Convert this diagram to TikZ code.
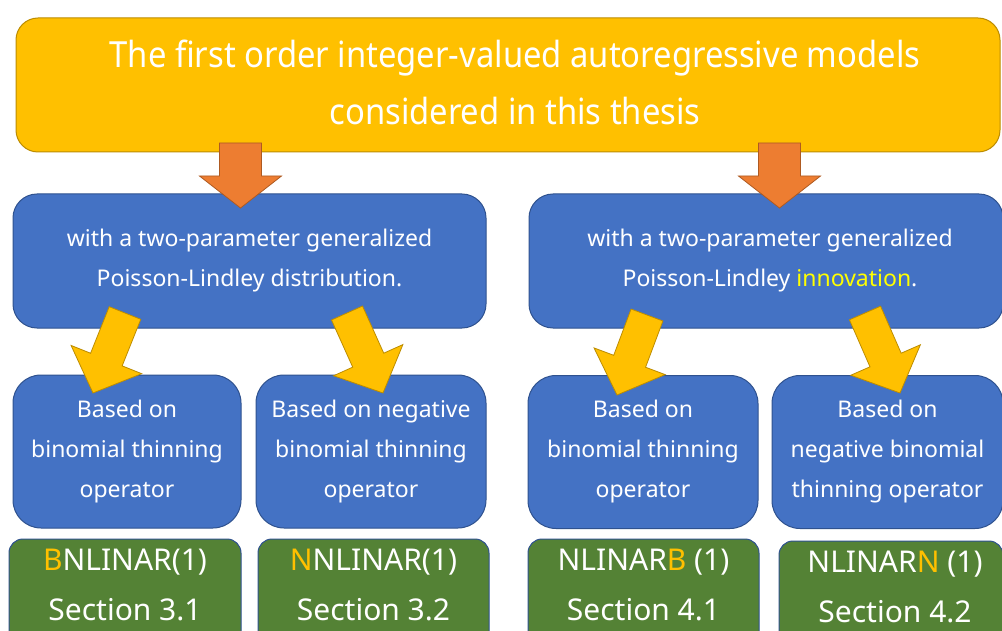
\documentclass[tikz,border=0pt]{standalone}
\usepackage{fontspec}
\setmainfont{Noto Sans}
\newfontfamily\titlefont{Noto Sans}[FakeStretch=0.91]
\usetikzlibrary{calc}
\definecolor{gold}{HTML}{FFC000}
\definecolor{goldline}{HTML}{BC8C00}
\definecolor{orangeA}{HTML}{ED7D31}
\definecolor{orangeline}{HTML}{AE5A21}
\definecolor{blueA}{HTML}{4472C4}
\definecolor{blueline}{HTML}{2F528F}
\definecolor{greenA}{HTML}{548235}
\definecolor{hiyellow}{HTML}{FFFF00}
\tikzset{
  boxbase/.style={rectangle, inner sep=0pt, line width=1pt, text=white, align=center},
  topbox/.style={boxbase, draw=goldline, fill=gold, rounded corners=22pt},
  midbox/.style={boxbase, draw=blueline, fill=blueA, rounded corners=24pt, minimum height=134pt,
     font=\fontsize{23}{40}\selectfont},
  lowbox/.style={boxbase, draw=blueline, fill=blueA, rounded corners=28pt, minimum height=153pt,
     font=\fontsize{23}{40}\selectfont},
  secbox/.style={boxbase, draw=blueline, fill=greenA, rounded corners=14pt},
  sectext/.style={text=white, align=center, inner sep=0pt, font=\fontsize{30}{50}\selectfont},
  titletext/.style={text=white, align=center, inner sep=0pt, font=\titlefont\fontsize{36}{57}\selectfont},
  orangearr/.style={draw=orangeline, fill=orangeA, line width=0.8pt, line join=miter},
  goldarr/.style={draw=goldline, fill=gold, line width=0.8pt, line join=miter},
}
% #1 style, #2 start coordinate, #3 tip coordinate, #4 shaft half width, #5 head half width, #6 head length
\newcommand\blockarr[6]{%
  \coordinate (#2-h) at ($(#3)!#6!(#2)$);
  \draw[#1] ($(#2)!#4!90:(#3)$) -- ($(#2-h)!#4!-90:(#2)$) -- ($(#2-h)!#5!-90:(#2)$) -- (#3)
     -- ($(#2-h)!#5!90:(#2)$) -- ($(#2-h)!#4!90:(#2)$) -- ($(#2)!#4!-90:(#3)$) -- cycle;
}
\begin{document}
\begin{tikzpicture}[x=1pt,y=-1pt]
\useasboundingbox (0,0) rectangle (1002,631);
\clip (0,0) rectangle (1002,631);
\fill[white] (0,0) rectangle (1002,631);

% top box
\node[topbox, minimum width=984pt, minimum height=134pt] (top) at (508,85) {};
\node[titletext] (toptext) at (515,82) {The first order integer-valued autoregressive models\\considered in this thesis};

% middle boxes
\node[midbox, minimum width=473pt] (m1) at (249.5,261) {with a two-parameter generalized\\Poisson-Lindley distribution.};
\node[midbox, minimum width=474pt] (m2) at (766,261) {\hspace*{8pt}with a two-parameter generalized\\\hspace*{8pt}Poisson-Lindley {\color{hiyellow}innovation}.};

% lower blue boxes
\node[lowbox, minimum width=228pt] (b1) at (127,451.5) {Based on\\binomial thinning\\operator};
\node[lowbox, minimum width=230pt] (b2) at (371,451.5) {Based on negative\\binomial thinning\\operator};
\node[lowbox, minimum width=230pt] (b3) at (643,452) {Based on\\binomial thinning\\operator};
\node[lowbox, minimum width=231pt] (b4) at (887.5,452) {Based on\\negative binomial\\thinning operator};

% green section boxes
\node[secbox, minimum width=232pt, minimum height=111pt] (g1) at (125,594.5) {};
\node[secbox, minimum width=231pt, minimum height=111pt] (g2) at (373.5,594.5) {};
\node[secbox, minimum width=231pt, minimum height=111pt] (g3) at (643.5,594.5) {};
\node[secbox, minimum width=224pt, minimum height=109pt] (g4) at (891,595.5) {};
\node[sectext] (g1t) at (125,585) {{\color{gold}B}NLINAR(1)\\Section 3.1};
\node[sectext] (g2t) at (373.5,585) {{\color{gold}N}NLINAR(1)\\Section 3.2};
\node[sectext] (g3t) at (643.5,585) {NLINAR{\color{gold}B} (1)\\Section 4.1};
\node[sectext] (g4t) at (895,587) {NLINAR{\color{gold}N} (1)\\Section 4.2};

% orange arrows
\coordinate (o1s) at (240.5,143);
\coordinate (o1t) at (240.5,208);
\coordinate (o2s) at (779.5,143);
\coordinate (o2t) at (779.5,208);
\blockarr{orangearr}{o1s}{o1t}{21pt}{41pt}{32pt}
\blockarr{orangearr}{o2s}{o2t}{21pt}{41pt}{32pt}

% gold arrows
\coordinate (y1s) at (125,313);
\coordinate (y1t) at (93,393);
\coordinate (y2s) at (347,313);
\coordinate (y2t) at (383,393);
\coordinate (y3s) at (647,315);
\coordinate (y3t) at (617,395);
\coordinate (y4s) at (865,313);
\coordinate (y4t) at (900,393);
\blockarr{goldarr}{y1s}{y1t}{17pt}{38pt}{36pt}
\blockarr{goldarr}{y2s}{y2t}{17pt}{38pt}{36pt}
\blockarr{goldarr}{y3s}{y3t}{17pt}{38pt}{36pt}
\blockarr{goldarr}{y4s}{y4t}{17pt}{38pt}{36pt}
\end{tikzpicture}
\end{document}
